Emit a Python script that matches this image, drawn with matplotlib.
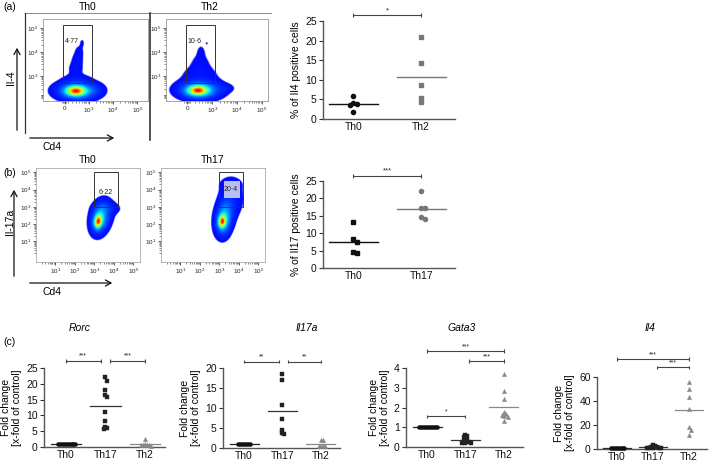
import numpy as np
import matplotlib
matplotlib.use("Agg")
import matplotlib.pyplot as plt
from matplotlib.patches import Rectangle, FancyArrowPatch

plt.rcParams['font.family'] = ['Liberation Sans', 'DejaVu Sans']
plt.rcParams['mathtext.fontset'] = 'custom'
plt.rcParams['mathtext.rm'] = 'Liberation Sans'
plt.rcParams['mathtext.it'] = 'Liberation Sans:italic'

W, H = 709, 465

# ---------------- data ----------------
# (a) Il4 staining
a_groups = ['Th0', 'Th2']
a_th0 = [5.8, 4.0, 3.8, 3.6, 1.8]
a_th2 = [21.0, 14.2, 8.8, 5.4, 4.4]
a_gate_labels = ['4·77', '10·6']
a_sig = '*'
# (b) Il17 staining
b_groups = ['Th0', 'Th17']
b_th0 = [13.2, 8.2, 7.4, 4.6, 4.3]
b_th17 = [22.0, 17.3, 17.1, 14.6, 14.1]
b_gate_labels = ['6·22', '20·4']
b_sig = '***'
# (c) qPCR fold change
c_groups = ['Th0', 'Th17', 'Th2']
c_titles = ['Rorc', 'Il17a', 'Gata3', 'Il4']
rorc_th0 = [1.0, 1.0, 1.0, 1.0, 1.0, 1.0, 1.0, 1.0, 1.0, 1.0]
rorc_th17 = [22.0, 21.0, 18.0, 16.5, 15.8, 11.0, 8.3, 6.2, 5.7, 6.0]
rorc_th2 = [2.4, 0.9, 0.7, 0.6, 0.5, 0.7, 0.4]
il17a_th0 = [1.0, 1.0, 1.0, 1.0, 1.0, 1.0, 1.0]
il17a_th17 = [18.5, 17.0, 10.8, 7.3, 4.6, 3.5, 3.7]
il17a_th2 = [1.9, 1.9, 0.6, 0.5, 0.5, 0.6]
gata3_th0 = [1.0, 1.0, 1.0, 1.0, 1.0, 1.0, 1.0, 1.0, 1.0, 1.0]
gata3_th17 = [0.6, 0.58, 0.5, 0.42, 0.35, 0.3, 0.25, 0.2, 0.18, 0.22]
gata3_th2 = [3.72, 2.85, 2.42, 1.78, 1.65, 1.62, 1.55, 1.5, 1.3]
il4_th0 = [1.0, 1.0, 1.0, 1.0, 1.0, 1.0, 1.0, 1.0]
il4_th17 = [3.5, 2.5, 2.0, 1.2, 1.0, 0.8, 0.5, 0.6, 1.5]
il4_th2 = [56.0, 50.0, 43.0, 33.0, 18.5, 16.0, 11.5]
c_yticks = [[0, 5, 10, 15, 20, 25], [0, 5, 10, 15, 20], [0, 1, 2, 3, 4], [0, 20, 40, 60]]
# significance brackets (x from, x to, y, label)
rorc_sig = [(0, 0.88, 27.3, '***'), (1.12, 2, 27.3, '***')]
il17a_sig = [(0, 0.92, 21.6, '**'), (1.15, 2, 21.6, '**')]
gata3_sig = [(0, 1, 1.55, '*'), (1.1, 2, 4.35, '***'), (0, 2, 4.85, '***')]
il4_sig = [(0, 2, 75, '***'), (1.1, 2, 68, '***')]

# Flow cytometry density shapes: (x, y, sx, sy, weight, rho) in decade units
flow_a_th0 = [(0.45, 0.36, 0.24, 0.12, 1.0, 0.0),
              (0.50, 0.37, 0.44, 0.20, 0.34, 0.0),
              (0.62, 0.38, 0.40, 0.20, 0.07, 0.0),
              (1.25, 0.40, 0.22, 0.15, 0.03, 0.0),
              (0.50, 0.85, 0.33, 0.12, 0.03, 0.0),
              (0.45, 1.25, 0.20, 0.20, 0.02, 0.0),
              (0.52, 1.65, 0.17, 0.20, 0.016, 0.0),
              (0.60, 2.00, 0.13, 0.18, 0.014, 0.0),
              (0.72, 2.35, 0.07, 0.12, 0.012, 0.0)]
flow_a_th2 = [(0.42, 0.38, 0.24, 0.12, 1.0, 0.0),
              (0.48, 0.40, 0.44, 0.20, 0.34, 0.0),
              (0.60, 0.42, 0.42, 0.20, 0.07, 0.0),
              (1.50, 0.48, 0.22, 0.11, 0.025, 0.0),
              (0.50, 0.95, 0.42, 0.26, 0.03, 0.0),
              (0.52, 1.50, 0.27, 0.30, 0.015, 0.0),
              (0.55, 2.00, 0.11, 0.18, 0.012, 0.0),
              (0.78, 2.33, 0.03, 0.03, 0.02, 0.0)]
flow_b_th0 = [(3.20, 2.15, 0.12, 0.22, 1.0, 0.15),
              (3.28, 2.35, 0.24, 0.45, 0.35, 0.2),
              (3.45, 2.45, 0.30, 0.52, 0.06, 0.3),
              (3.62, 2.90, 0.36, 0.20, 0.05, 0.0)]
flow_b_th17 = [(3.15, 2.15, 0.12, 0.22, 1.0, 0.1),
               (3.25, 2.40, 0.24, 0.52, 0.35, 0.2),
               (3.30, 1.70, 0.15, 0.30, 0.05, 0.2),
               (3.60, 3.50, 0.33, 0.60, 0.05, 0.0),
               (3.60, 4.30, 0.30, 0.20, 0.03, 0.0)]

# ---------------- helpers ----------------
fig = plt.figure(figsize=(W / 100, H / 100), dpi=100)


def rect(l, t, r, b):
    return [l / W, 1 - b / H, (r - l) / W, (b - t) / H]


ov = fig.add_axes([0, 0, 1, 1])
ov.set_xlim(0, W)
ov.set_ylim(H, 0)
ov.axis('off')


def arrow(x0, y0, x1, y1):
    ov.add_patch(FancyArrowPatch((x0, y0), (x1, y1), arrowstyle='->,head_length=4,head_width=2.2',
                                 lw=0.9, color='#111', mutation_scale=1))


def flow_density(ax, comps, xlim, ylim, thr=0.005):
    x = np.linspace(xlim[0], xlim[1], 400)
    y = np.linspace(ylim[0], ylim[1], 400)
    X, Y = np.meshgrid(x, y)
    D = np.zeros_like(X)
    for cx, cy, sx, sy, w, rho in comps:
        dx = (X - cx) / sx
        dy = (Y - cy) / sy
        Q = (dx ** 2 - 2 * rho * dx * dy + dy ** 2) / (1 - rho ** 2)
        D += w * np.exp(-0.5 * Q)
    D /= D.max()
    rgba = plt.cm.jet(0.13 + 0.78 * D)
    rgba[..., 3] = np.clip((D - thr) / (thr * 0.3), 0, 1)
    ax.imshow(rgba, extent=[xlim[0], xlim[1], ylim[0], ylim[1]], origin='lower',
              aspect='auto', interpolation='bilinear', zorder=1)


def style_flow(ax, xlim, ylim, xt, xl, yt, yl, xminor, yminor, spine_c):
    ax.set_xlim(*xlim)
    ax.set_ylim(*ylim)
    ax.set_xticks(xt)
    ax.set_xticklabels(xl)
    ax.set_yticks(yt)
    ax.set_yticklabels(yl)
    ax.set_xticks(xminor, minor=True)
    ax.set_yticks(yminor, minor=True)
    ax.tick_params(which='major', length=2.2, width=0.5, labelsize=4.5, pad=1.5, colors='#222')
    ax.tick_params(which='minor', length=1.3, width=0.4, colors='#333')
    for s in ax.spines.values():
        s.set_color(spine_c)
        s.set_linewidth(0.6)


def swarm_offsets(vals, ax, step_px=2.1, dmin_px=3.0):
    # simple beeswarm in pixel space
    y0, y1 = ax.get_ylim()
    pos = ax.get_position()
    ppu_y = pos.height * H / (y1 - y0)
    x0, x1 = ax.get_xlim()
    ppu_x = pos.width * W / (x1 - x0)
    order = np.argsort(vals)[::-1]
    placed = []
    offs = np.zeros(len(vals))
    for i in order:
        vy = vals[i] * ppu_y
        k = 0
        while True:
            cands = [0.0] if k == 0 else [k * step_px, -k * step_px]
            ok = None
            for c in cands:
                if all(abs(c - px) >= step_px * 0.99 or abs(vy - py) >= dmin_px for px, py in placed):
                    ok = c
                    break
            if ok is not None:
                offs[i] = ok / ppu_x
                placed.append((ok, vy))
                break
            k += 1
    return offs


def bracket(ax, x1, x2, y, label, fs=5.0):
    y0, y1 = ax.get_ylim()
    pos = ax.get_position()
    cap = 1.8 * (y1 - y0) / (pos.height * H)
    kw = dict(color='#444', lw=0.8, clip_on=False, solid_capstyle='butt')
    ax.plot([x1, x2], [y, y], **kw)
    ax.plot([x1, x1], [y - cap, y + cap], **kw)
    ax.plot([x2, x2], [y - cap, y + cap], **kw)
    ax.text((x1 + x2) / 2, y + cap * 0.6, label, ha='center', va='bottom', fontsize=fs, color='#222')


def prism_axes(ax, ylim, yticks, fs=7.5):
    ax.set_ylim(*ylim)
    ax.set_yticks(yticks)
    for s in ['top', 'right']:
        ax.spines[s].set_visible(False)
    for s in ['left', 'bottom']:
        ax.spines[s].set_color('#555')
        ax.spines[s].set_linewidth(1.0)
    ax.tick_params(axis='y', length=3, width=0.8, labelsize=fs, pad=1.5, colors='#333', labelcolor='#111')
    ax.tick_params(axis='x', length=0, labelsize=fs, pad=2, labelcolor='#111')
    ax.patch.set_alpha(0)


# ---------------- (a) flow ----------------
ov.text(3, 7, '(a)', fontsize=7.5, va='center', ha='left')
ov.plot([25, 271], [13, 13], color='#888', lw=0.7)
ov.plot([25, 25], [13, 133], color='#333', lw=0.9)
ov.plot([150, 150], [13, 140], color='#222', lw=1.1)
ov.text(88, 7, a_groups[0], fontsize=7.5, ha='center', va='center')
ov.text(210, 7, a_groups[1], fontsize=7.5, ha='center', va='center')
ov.text(11, 78, 'Il-4', fontsize=7.5, rotation=90, ha='center', va='center')
arrow(17, 133, 17, 45)
arrow(27, 138, 117, 138)
ov.text(52, 147, 'Cd4', fontsize=7.5, ha='center', va='center')

a_xt = [0, 1, 2, 3]
a_xl = ['0', '$10^3$', '$10^4$', '$10^5$']
a_yt = [1, 2, 3]
a_yl = ['$10^3$', '$10^4$', '$10^5$']
a_minor = sorted([d + np.log10(k) for d in (1, 2) for k in range(2, 10)] +
                 [-0.12, -0.07, -0.03, 0.03, 0.07, 0.12, 0.3, 0.48, 0.6, 0.7, 0.78, 0.85, 0.9, 0.95])
a_yminor = sorted([d + np.log10(k) for d in (1, 2) for k in range(2, 10)] +
                  [0.06, 0.1, 0.14, 0.18, 0.22, 0.45, 0.6, 0.7, 0.78, 0.85, 0.9, 0.95])
for rct, comps, lab, xlim in [((43, 19, 148, 101), flow_a_th0, a_gate_labels[0], (-0.9, 3.45)),
                              ((166, 19, 268, 101), flow_a_th2, a_gate_labels[1], (-0.86, 3.25))]:
    ax = fig.add_axes(rect(*rct))
    ylim = (-0.05, 3.37)
    flow_density(ax, comps, xlim, ylim)
    style_flow(ax, xlim, ylim, a_xt, a_xl, a_yt, a_yl, a_minor, a_yminor, '#999')
    ax.add_patch(Rectangle((-0.07, 0.72), 1.2, 2.4, fill=False, ec='#333', lw=0.7, zorder=3))
    ax.text(0.3, 2.45, lab, fontsize=5, ha='center', va='center', color='#222', zorder=4)

# ---------------- (b) flow ----------------
ov.text(3, 173, '(b)', fontsize=7.5, va='center', ha='left')
ov.text(88, 160, b_groups[0], fontsize=7.5, ha='center', va='center')
ov.text(213, 160, b_groups[1], fontsize=7.5, ha='center', va='center')
ov.text(10, 222, 'Il-17a', fontsize=7.5, rotation=90, ha='center', va='center')
arrow(14, 279, 14, 187)
arrow(27, 283, 115, 283)
ov.text(52, 292, 'Cd4', fontsize=7.5, ha='center', va='center')

b_t = [1, 2, 3, 4, 5]
b_l = ['$10^1$', '$10^2$', '$10^3$', '$10^4$', '$10^5$']
b_minor = [d + np.log10(k) for d in range(0, 5) for k in range(2, 10)]
for i, (rct, comps, lab) in enumerate([((36, 168, 140, 262), flow_b_th0, b_gate_labels[0]),
                                       ((161, 168, 265, 262), flow_b_th17, b_gate_labels[1])]):
    ax = fig.add_axes(rect(*rct))
    xlim, ylim = (0.0, 5.35), (-0.2, 5.25)
    flow_density(ax, comps, xlim, ylim)
    style_flow(ax, xlim, ylim, b_t, b_l, b_t, b_l, b_minor, b_minor, '#aaa')
    ax.add_patch(Rectangle((3.0, 3.0), 1.2, 2.0, fill=False, ec='#333', lw=0.7, zorder=3))
    if i == 1:
        ax.add_patch(Rectangle((3.22, 3.5), 0.85, 1.0, fc='#cfd0f2', ec='none', alpha=0.9, zorder=3))
    ax.text(3.6, 4.0 if i == 1 else 3.85, lab, fontsize=5, ha='center', va='center', color='#222', zorder=4)

# ---------------- (a)/(b) scatter ----------------
for rct, groups, vals, markers, colors, ylabel, sig in [
        ((323, 21, 455, 119), a_groups, [a_th0, a_th2], ['o', 's'], ['#111', '#777'],
         '% of Il4 positive cells', a_sig),
        ((323, 181, 455, 268), b_groups, [b_th0, b_th17], ['s', 'o'], ['#111', '#777'],
         '% of Il17 positive cells', b_sig)]:
    ax = fig.add_axes(rect(*rct))
    ax.set_xlim(-0.45, 1.5)
    prism_axes(ax, (0, 25), [0, 5, 10, 15, 20, 25], fs=7.5)
    ax.set_xticks([0, 1])
    ax.set_xticklabels(groups)
    ax.set_ylabel(ylabel, fontsize=7.5, labelpad=3)
    for gi, (v, m, c) in enumerate(zip(vals, markers, colors)):
        v = np.array(v)
        offs = swarm_offsets(v, ax, step_px=3.4, dmin_px=3.8)
        ax.plot(gi + offs, v, ls='none', marker=m, ms=3.0, color=c, mec=c, clip_on=False, zorder=3)
        ax.plot([gi - 0.36, gi + 0.36], [v.mean()] * 2, color=c, lw=1.0, zorder=2)
    bracket(ax, 0, 1, 26.5, sig, fs=5.5)

# ---------------- (c) ----------------
ov.text(3, 342, '(c)', fontsize=7.5, va='center', ha='left')
c_data = [(rorc_th0, rorc_th17, rorc_th2, rorc_sig, (0, 25)),
          (il17a_th0, il17a_th17, il17a_th2, il17a_sig, (0, 20)),
          (gata3_th0, gata3_th17, gata3_th2, gata3_sig, (0, 4)),
          (il4_th0, il4_th17, il4_th2, il4_sig, (0, 60))]
c_rects = [(44, 368, 165, 447), (223, 368, 340, 448), (406, 368, 523, 447), (597, 377, 707, 449)]
c_title_x = [80, 307, 462, 650]
c_markers = ['o', 's', '^']
c_colors = ['#111', '#222', '#888']
c_line_colors = ['#222', '#333', '#888']
for k, ((g0, g1, g2, sigs, ylim), rct) in enumerate(zip(c_data, c_rects)):
    ax = fig.add_axes(rect(*rct))
    ax.set_xlim(-0.55, 2.5)
    prism_axes(ax, ylim, c_yticks[k], fs=7.5)
    ax.set_xticks([0, 1, 2])
    ax.set_xticklabels(c_groups)
    ax.set_ylabel('Fold change\n[x-fold of control]', fontsize=7.5, labelpad=3, linespacing=1.1)
    for gi, v in enumerate([g0, g1, g2]):
        v = np.array(v)
        offs = swarm_offsets(v, ax, step_px=1.9, dmin_px=3.4)
        ax.plot(gi + offs, v, ls='none', marker=c_markers[gi], ms=2.9 if gi < 2 else 3.1,
                color=c_colors[gi], mec=c_colors[gi], mew=0.3, clip_on=False, zorder=3)
        ax.plot([gi - 0.38, gi + 0.38], [v.mean()] * 2, color=c_line_colors[gi], lw=0.9, zorder=2)
    for x1, x2, y, lab in sigs:
        bracket(ax, x1, x2, y, lab, fs=5.0)
    ov.text(c_title_x[k], 328, c_titles[k], fontsize=7.5, style='italic', ha='center', va='center')

fig.savefig('out.png', dpi=100)
